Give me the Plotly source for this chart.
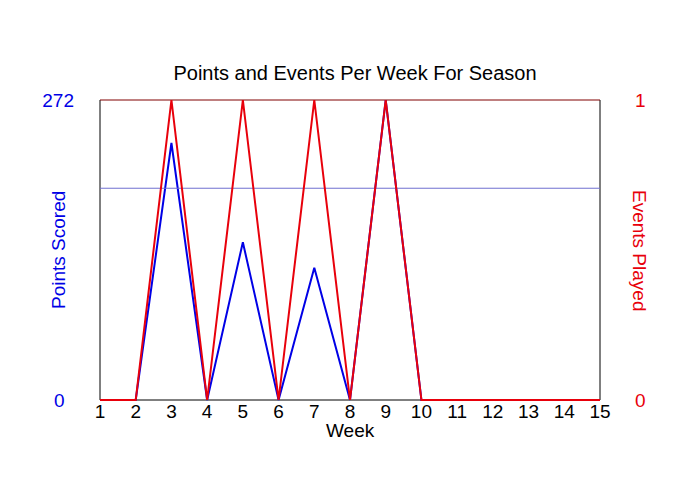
import plotly.graph_objects as go

weeks = list(range(1, 16))
points_scored = [0, 0, 233, 0, 143, 0, 120, 0, 272, 0, 0, 0, 0, 0, 0]
events_played = [0, 0, 1, 0, 1, 0, 1, 0, 1, 0, 0, 0, 0, 0, 0]
avg_points = 192
left_ticks = [0, 272]
left_ticktext = ["0\u2002", "272"]
right_ticks = [0, 1]

FONT = "Liberation Sans, Arial, sans-serif"
BLUE = "#0000e6"
RED = "#e8000b"

# page body has a default 8px margin; compensate so the chart sits where the reference does
OFF = 8
# small padding (in pixels) so lines on the frame are not clipped
PAD = 3
W_PX, H_PX = 500, 300
xmin, xmax = weeks[0], weeks[-1]
xpad = (xmax - xmin) * PAD / W_PX
ymax_l = left_ticks[-1]
ypad_l = ymax_l * PAD / H_PX
ypad_r = 1 * PAD / H_PX
PW, PH = W_PX + 2 * PAD, H_PX + 2 * PAD
ML = 100 - OFF - PAD
MT = 100 - OFF - PAD

fig = go.Figure()
fig.add_trace(go.Scatter(x=weeks, y=points_scored, mode="lines",
                         line=dict(color=BLUE, width=2), yaxis="y", showlegend=False))
fig.add_trace(go.Scatter(x=[xmin, xmax], y=[avg_points, avg_points], mode="lines",
                         line=dict(color="#7070d0", width=1), yaxis="y", showlegend=False))
fig.add_trace(go.Scatter(x=weeks, y=events_played, mode="lines",
                         line=dict(color=RED, width=2), yaxis="y2", showlegend=False))

fig.update_layout(
    width=700, height=500,
    margin=dict(l=ML, r=700 - ML - PW, t=MT, b=500 - MT - PH, pad=0),
    paper_bgcolor="white", plot_bgcolor="white",
    font=dict(family=FONT, size=19, color="black"),
    title=dict(text="Points and Events Per Week For Season", x=(355 - OFF) / 700,
               xanchor="center", y=1 - (73 - OFF) / 500, yanchor="middle",
               font=dict(size=20)),
    xaxis=dict(range=[xmin - xpad, xmax + xpad], tickvals=weeks, showgrid=False,
               zeroline=False, showline=False, ticks="", automargin=False,
               ticklabelstandoff=-5, tickfont=dict(size=19)),
    yaxis=dict(range=[-ypad_l, ymax_l + ypad_l], tickvals=left_ticks, ticktext=left_ticktext,
               showgrid=False, zeroline=False, showline=False, ticks="", automargin=False,
               tickfont=dict(color=BLUE, size=19), ticklabelstandoff=22),
    yaxis2=dict(range=[-ypad_r, 1 + ypad_r], tickvals=right_ticks, overlaying="y",
                side="right", showgrid=False, zeroline=False, showline=False, ticks="",
                automargin=False, tickfont=dict(color=RED, size=19), ticklabelstandoff=31),
    shapes=[
        dict(type="line", xref="x", yref="y", x0=xmin, x1=xmin, y0=0, y1=ymax_l,
             line=dict(color="black", width=1), layer="below"),
        dict(type="line", xref="x", yref="y", x0=xmax, x1=xmax, y0=0, y1=ymax_l,
             line=dict(color="black", width=1), layer="below"),
        dict(type="line", xref="x", yref="y", x0=xmin, x1=xmax, y0=0, y1=0,
             line=dict(color="black", width=1), layer="below"),
        dict(type="line", xref="x", yref="y", x0=xmin, x1=xmax, y0=ymax_l, y1=ymax_l,
             line=dict(color="#800000", width=1), layer="below"),
    ],
    annotations=[
        dict(text="Week", xref="paper", yref="paper", x=0.5, y=-(31 - PAD) / PH,
             xanchor="center", yanchor="middle", showarrow=False, font=dict(size=19)),
        dict(text="Points Scored", xref="paper", yref="paper", x=-(42 - PAD) / PW, y=0.5,
             xanchor="center", yanchor="middle", textangle=-90, showarrow=False,
             font=dict(color=BLUE, size=19)),
        dict(text="Events Played", xref="paper", yref="paper", x=1 + (40 - PAD) / PW, y=0.5,
             xanchor="center", yanchor="middle", textangle=90, showarrow=False,
             font=dict(color=RED, size=19)),
    ],
)

fig.write_html("out.html")
